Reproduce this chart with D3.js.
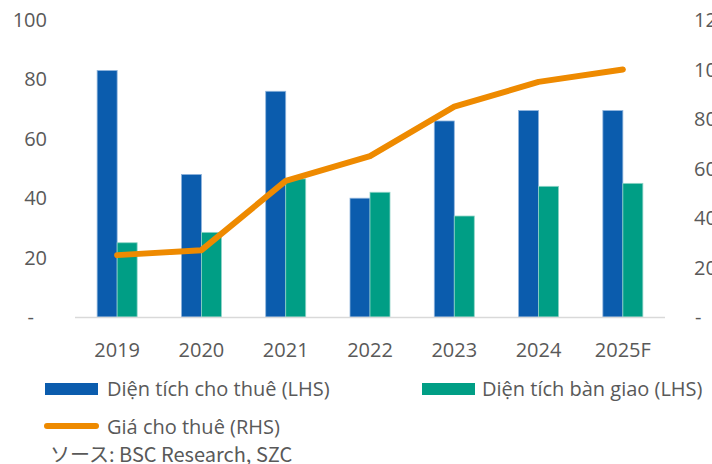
<!DOCTYPE html>
<html>
<head>
<meta charset="utf-8">
<script src="https://cdn.jsdelivr.net/npm/d3@7"></script>
<style>
  body { margin: 0; background: #fff; }
  svg text { font-family: "Open Sans", "Noto Sans", sans-serif; fill: #595959; }
</style>
</head>
<body>
<svg id="chart" width="712" height="464"></svg>
<script>
var years = ["2019", "2020", "2021", "2022", "2023", "2024", "2025F"];
var leased = [83, 48, 76, 40, 66, 69.5, 69.5];      // Diện tích cho thuê (LHS)
var handed = [25, 28.5, 46.5, 42, 34, 44, 45];      // Diện tích bàn giao (LHS)
var price = [25, 27, 55, 65, 85, 95, 100];          // Giá cho thuê (RHS)
var leftTicks = [0, 20, 40, 60, 80, 100];
var rightTicks = [0, 20, 40, 60, 80, 100, 120];

var BLUE = "#0B5CAD", GREEN = "#009E85", ORANGE = "#EE8A00";

var svg = d3.select("#chart");
var plot = { left: 75, right: 665, top: 20, bottom: 317 };

var x = d3.scaleBand().domain(years).range([plot.left, plot.right]);
var yL = d3.scaleLinear().domain([0, 100]).range([plot.bottom, plot.top]);
var yR = d3.scaleLinear().domain([0, 120]).range([plot.bottom, plot.top]);
var barW = 20;

// left axis labels
svg.append("g").selectAll("text")
    .data(leftTicks).enter().append("text")
    .attr("x", function(d) { return d === 0 ? 34 : 47; })
    .attr("y", function(d) { return yL(d); })
    .attr("dy", "0.35em")
    .attr("text-anchor", "end")
    .style("font-size", "20px")
    .text(function(d) { return d === 0 ? "-" : d; });

// right axis labels (cut by the edge, as in the source)
svg.append("g").selectAll("text")
    .data(rightTicks).enter().append("text")
    .attr("x", function(d) { return d === 0 ? 695 : 694; })
    .attr("y", function(d) { return yR(d); })
    .attr("dy", "0.35em")
    .attr("text-anchor", "start")
    .style("font-size", "20px")
    .text(function(d) { return d === 0 ? "-" : d; });

// bars
var bars = svg.append("g");
bars.selectAll(".leased")
    .data(leased).enter().append("rect")
    .attr("x", function(d, i) { return x(years[i]) + x.bandwidth() / 2 - barW; })
    .attr("y", function(d) { return yL(d); })
    .attr("width", barW)
    .attr("height", function(d) { return plot.bottom - yL(d); })
    .attr("fill", BLUE)
    .attr("stroke", "#8fb4dc").attr("stroke-width", 0.8);

bars.selectAll(".handed")
    .data(handed).enter().append("rect")
    .attr("x", function(d, i) { return x(years[i]) + x.bandwidth() / 2; })
    .attr("y", function(d) { return yL(d); })
    .attr("width", barW)
    .attr("height", function(d) { return plot.bottom - yL(d); })
    .attr("fill", GREEN)
    .attr("stroke", "#8fd3c6").attr("stroke-width", 0.8);

// baseline
svg.append("line")
    .attr("x1", plot.left).attr("x2", plot.right)
    .attr("y1", plot.bottom + 0.5).attr("y2", plot.bottom + 0.5)
    .attr("stroke", "#d9d9d9").attr("stroke-width", 1.5);

// price line
var line = d3.line()
    .x(function(d, i) { return x(years[i]) + x.bandwidth() / 2; })
    .y(function(d) { return yR(d); });

svg.append("path")
    .datum(price)
    .attr("d", line)
    .attr("fill", "none")
    .attr("stroke", ORANGE)
    .attr("stroke-width", 6)
    .attr("stroke-linecap", "round")
    .attr("stroke-linejoin", "round");

// x labels
svg.append("g").selectAll("text")
    .data(years).enter().append("text")
    .attr("x", function(d) { return x(d) + x.bandwidth() / 2; })
    .attr("y", 350)
    .attr("dy", "0.35em")
    .attr("text-anchor", "middle")
    .style("font-size", "20px")
    .text(function(d) { return d; });

// legend
var legend = svg.append("g").style("font-size", "20px");
legend.append("rect").attr("x", 45).attr("y", 383).attr("width", 53).attr("height", 12).attr("fill", BLUE);
legend.append("text").attr("x", 107).attr("y", 389).attr("dy", "0.35em").text("Diện tích cho thuê (LHS)");
legend.append("rect").attr("x", 422).attr("y", 383).attr("width", 53).attr("height", 12).attr("fill", GREEN);
legend.append("text").attr("x", 482).attr("y", 389).attr("dy", "0.35em").text("Diện tích bàn giao (LHS)");
legend.append("line").attr("x1", 47).attr("x2", 96).attr("y1", 426).attr("y2", 426)
    .attr("stroke", ORANGE).attr("stroke-width", 6).attr("stroke-linecap", "round");
legend.append("text").attr("x", 107).attr("y", 427).attr("dy", "0.35em").text("Giá cho thuê (RHS)");

svg.append("text")
    .attr("x", 50).attr("y", 455).attr("dy", "0.35em")
    .style("font-size", "20px")
    .style("font-family", "'Noto Sans CJK JP', 'Open Sans', sans-serif")
    .text("ソース: BSC Research, SZC");
</script>
</body>
</html>
